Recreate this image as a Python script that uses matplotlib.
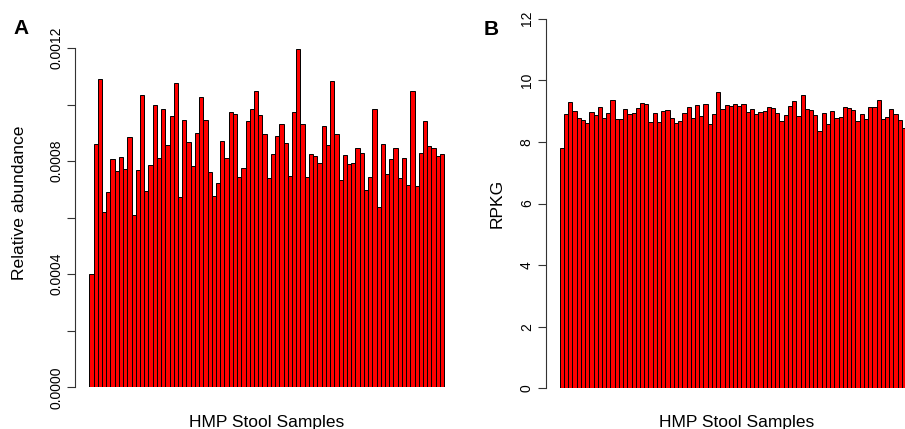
import matplotlib

matplotlib.use("Agg")
import matplotlib.pyplot as plt

plt.rcParams["font.family"] = ["Liberation Sans", "DejaVu Sans"]

# Panel A: relative abundance per HMP stool sample
abundance = [
    0.000401, 0.000859, 0.001089, 0.000621, 0.000689, 0.000806, 0.000765, 0.000813,
    0.000772, 0.000886, 0.000609, 0.000768, 0.001034, 0.000695, 0.000786, 0.000998,
    0.000812, 0.000986, 0.000856, 0.000958, 0.001077, 0.000673, 0.000945, 0.000866,
    0.000783, 0.000899, 0.001025, 0.000946, 0.000760, 0.000677, 0.000722, 0.000871,
    0.000811, 0.000973, 0.000966, 0.000744, 0.000776, 0.000943, 0.000984, 0.001048,
    0.000962, 0.000895, 0.000742, 0.000824, 0.000888, 0.000933, 0.000865, 0.000747,
    0.000975, 0.001198, 0.000932, 0.000743, 0.000824, 0.000818, 0.000793, 0.000923,
    0.000856, 0.001083, 0.000897, 0.000734, 0.000820, 0.000788, 0.000794, 0.000848,
    0.000829, 0.000697, 0.000744, 0.000985, 0.000637, 0.000859, 0.000754, 0.000807,
    0.000846, 0.000740, 0.000810, 0.000716, 0.001047, 0.000712, 0.000828, 0.000943,
    0.000852, 0.000848, 0.000818, 0.000824,
]

# Panel B: RPKG per sample (last two run past the right edge of the figure)
rpkg = [
    7.79, 8.92, 9.30, 9.01, 8.77, 8.71, 8.60, 8.96, 8.86, 9.12, 8.78, 8.95,
    9.37, 8.73, 8.75, 9.07, 8.91, 8.93, 9.10, 9.26, 9.24, 8.64, 8.93, 8.65,
    9.00, 9.03, 8.77, 8.61, 8.67, 8.94, 9.12, 8.77, 9.20, 8.83, 9.22, 8.58,
    8.90, 9.61, 9.06, 9.19, 9.17, 9.24, 9.16, 9.22, 8.97, 9.08, 8.90, 8.96,
    8.99, 9.12, 9.09, 8.94, 8.69, 8.88, 9.16, 9.34, 8.83, 9.52, 9.08, 9.04,
    8.88, 8.36, 8.93, 8.59, 9.01, 8.77, 8.82, 9.13, 9.10, 9.03, 8.69, 8.91,
    8.73, 9.12, 9.12, 9.37, 8.74, 8.81, 9.06, 8.90, 8.70, 8.44, 8.60, 8.80,
]

abundance_ticks = [0.0, 0.0002, 0.0004, 0.0006, 0.0008, 0.0010, 0.0012]
abundance_labels = ["0.0000", "", "0.0004", "", "0.0008", "", "0.0012"]
rpkg_ticks = [0, 2, 4, 6, 8, 10, 12]
rpkg_labels = ["0", "2", "4", "6", "8", "10", "12"]

W, H = 905, 429


def px_axes(fig, left, right, top, bottom):
    return fig.add_axes([left / W, (H - bottom) / H, (right - left) / W, (bottom - top) / H])


def draw_bars(ax, values, ylim, ticks, labels):
    n = len(values)
    ax.bar(
        range(n),
        values,
        width=1.0,
        align="edge",
        color="#ff0000",
        edgecolor="black",
        linewidth=0.7,
    )
    ax.set_xlim(-0.04 * n, n * 1.04)
    ax.set_ylim(*ylim)

    for side in ("top", "right", "bottom"):
        ax.spines[side].set_visible(False)
    ax.spines["left"].set_bounds(ticks[0], ticks[-1])
    ax.spines["left"].set_linewidth(0.8)
    ax.spines["left"].set_color("#333333")

    ax.set_xticks([])
    ax.set_yticks(ticks)
    ax.set_yticklabels(labels)
    ax.tick_params(
        axis="y",
        length=5.5,
        width=0.8,
        color="#333333",
        pad=3,
        labelsize=10,
        labelrotation=90,
    )
    for label in ax.get_yticklabels():
        label.set_verticalalignment("center")
    ax.patch.set_visible(False)


fig = plt.figure(figsize=(W / 100, H / 100), dpi=100)

ax_a = px_axes(fig, 75.1, 458.3, 19.0, 387.3)
draw_bars(ax_a, abundance, (0, 0.0013026), abundance_ticks, abundance_labels)

ax_b = px_axes(fig, 545.6, 928.8, 18.7, 388.3)
draw_bars(ax_b, rpkg, (0, 12), rpkg_ticks, rpkg_labels)

# axis titles and panel letters, placed in pixel terms
fig.text(19.5 / W, 1 - 203 / H, "Relative abundance", rotation=90,
         ha="center", va="center", fontsize=12.6)
fig.text(497 / W, 1 - 203 / H, "RPKG", rotation=90,
         ha="center", va="center", fontsize=12.6)
fig.text(267 / W, 1 - 427 / H, "HMP Stool Samples", ha="center", va="baseline", fontsize=12.5)
fig.text(737 / W, 1 - 427 / H, "HMP Stool Samples", ha="center", va="baseline", fontsize=12.5)
fig.text(13 / W, 1 - 33.5 / H, "A", ha="left", va="baseline", fontsize=15, fontweight="bold")
fig.text(483.5 / W, 1 - 35 / H, "B", ha="left", va="baseline", fontsize=15, fontweight="bold")

fig.savefig("out.png", dpi=100)
plt.close(fig)
